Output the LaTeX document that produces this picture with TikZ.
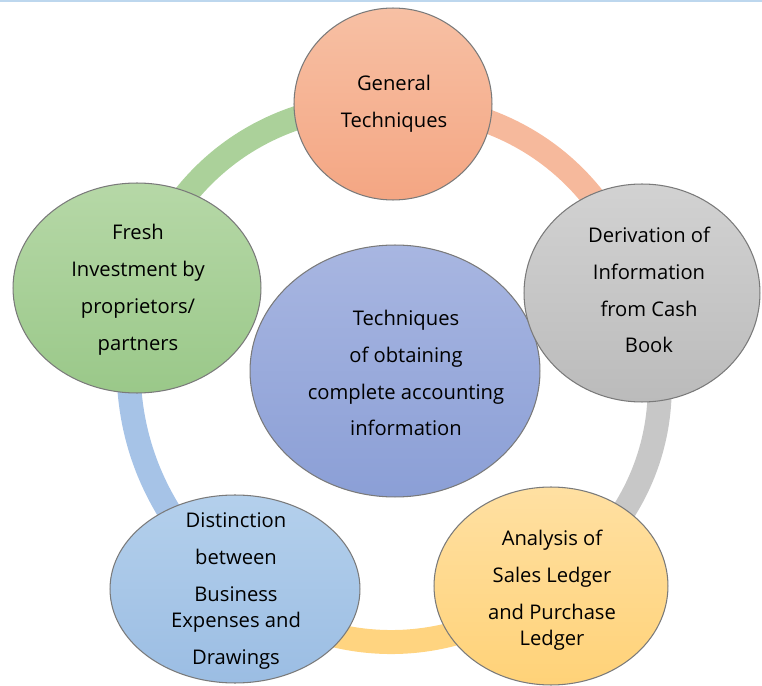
\documentclass[tikz,border=0pt]{standalone}
\usepackage{fontspec}
\setmainfont{Open Sans}
\usetikzlibrary{shapes.geometric}

\definecolor{edgegray}{HTML}{7A7A7A}
\definecolor{rulecol}{HTML}{BDD7EE}
% bubble fills (top / bottom) and ring colours
\definecolor{salmonA}{HTML}{F7C0A4}\definecolor{salmonB}{HTML}{F4A683}\definecolor{salmonR}{HTML}{F6B99C}
\definecolor{greyA}{HTML}{D2D2D2}\definecolor{greyB}{HTML}{BBBBBB}\definecolor{greyR}{HTML}{C7C7C7}
\definecolor{goldA}{HTML}{FFE0A2}\definecolor{goldB}{HTML}{FFD278}\definecolor{goldR}{HTML}{FFD480}
\definecolor{skyA}{HTML}{B4D0EC}\definecolor{skyB}{HTML}{9BBDE3}\definecolor{skyR}{HTML}{A6C3E7}
\definecolor{leafA}{HTML}{B6D8A7}\definecolor{leafB}{HTML}{9AC889}\definecolor{leafR}{HTML}{ABD19A}
\definecolor{coreA}{HTML}{A8B6E1}\definecolor{coreB}{HTML}{8B9FD6}

\begin{document}
\begin{tikzpicture}[x=0.02cm,y=-0.02cm,
    bubble/.style={ellipse, draw=edgegray, line width=0.6pt, inner sep=0pt},
    txt/.style={align=center, inner sep=0pt, font=\fontsize{11.5}{21}\selectfont},
    ringseg/.style={line width=0.48cm, line cap=butt}]
		\useasboundingbox (0,0) rectangle (762,686);
		\draw[rulecol, line width=1.2pt] (0,1) -- (762,1);

		% centres of the five outer bubbles
		\coordinate (genc) at (393,104);
		\coordinate (derivc) at (642,293);
		\coordinate (ledgerc) at (551,586);
		\coordinate (distc) at (235,589);
		\coordinate (freshc) at (137,288);

		% ring, one segment per bubble
		\draw[ringseg, salmonR] (genc) to[bend left=36] (derivc);
		\draw[ringseg, greyR] (derivc) to[bend left=38] (ledgerc);
		\draw[ringseg, goldR] (ledgerc) to[bend left=36] (distc);
		\draw[ringseg, skyR] (distc) to[bend left=30] (freshc);
		\draw[ringseg, leafR] (freshc) to[bend left=37] (genc);

		\node[bubble, minimum width=5.80cm, minimum height=5.04cm, top color=coreA, bottom color=coreB] (core) at (395,371) {};
		\node[bubble, minimum width=3.96cm, minimum height=3.84cm, top color=salmonA, bottom color=salmonB] (gen) at (genc) {};
		\node[bubble, minimum width=4.72cm, minimum height=4.36cm, top color=greyA, bottom color=greyB] (deriv) at (derivc) {};
		\node[bubble, minimum width=4.68cm, minimum height=3.96cm, top color=goldA, bottom color=goldB] (ledger) at (ledgerc) {};
		\node[bubble, minimum width=5.00cm, minimum height=3.76cm, top color=skyA, bottom color=skyB] (dist) at (distc) {};
		\node[bubble, minimum width=4.96cm, minimum height=4.20cm, top color=leafA, bottom color=leafB] (fresh) at (freshc) {};

		% labels
		\node[txt] (gentxt) at (394,104) {General\\Techniques};
		\node[txt] (derivtxt) at (649,290) {Derivation of\\Information\\from Cash\\Book};
		\node[txt] (ledgertxt) at (552,590) {Analysis of\\Sales Ledger\\and Purchase\\[-6pt]Ledger};
		\node[txt] (disttxt) at (236,591) {Distinction\\between\\Business\\[-6pt]Expenses and\\Drawings};
		\node[txt] (freshtxt) at (138,290) {Fresh\\Investment by\\proprietors/\\partners};
		\node[txt] (coretxt) at (406,373) {Techniques\\of obtaining\\complete accounting\\information};
\end{tikzpicture}
\end{document}
